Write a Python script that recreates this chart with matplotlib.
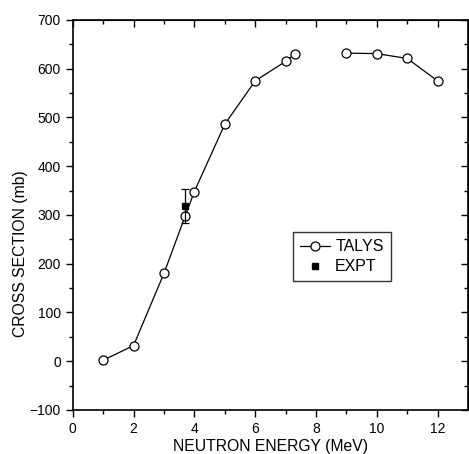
import numpy as np
import matplotlib.pyplot as plt
from matplotlib import font_manager

# TALYS curve (gap between 7.3 and 9 MeV)
talys_e = [1, 2, 3, 3.7, 4, 5, 6, 7, 7.3, np.nan, 9, 10, 11, 12]
talys_xs = [2, 32, 180, 298, 348, 486, 575, 615, 630, np.nan, 632, 631, 621, 575]

# experimental point
expt_e = [3.7]
expt_xs = [318]
expt_err = [35]

plt.rcParams['font.family'] = ['Liberation Sans', 'DejaVu Sans']

# narrow face for the axis titles if it is there
names = set(f.name for f in font_manager.fontManager.ttflist)
if 'Liberation Sans Narrow' in names:
    title_font = 'Liberation Sans Narrow'
    title_size = 13
else:
    title_font = 'Liberation Sans'
    title_size = 11.3

fig = plt.figure(figsize=(4.69, 4.54), dpi=100)
ax = fig.add_axes([0.155, 0.097, 0.843, 0.859])

ax.plot(talys_e, talys_xs, '-o', color='black', lw=0.9, markersize=6.5,
        markerfacecolor='white', markeredgewidth=0.9, label='TALYS')
ax.errorbar(expt_e, expt_xs, yerr=expt_err, fmt='none', ecolor='black',
            elinewidth=0.9, capsize=3, capthick=0.9)
ax.plot(expt_e, expt_xs, 's', color='black', markersize=5, label='EXPT')

ax.set_xlim(0, 13)
ax.set_ylim(-100, 700)
ax.set_xticks([0, 2, 4, 6, 8, 10, 12])
ax.set_xticks(np.arange(1, 13, 2), minor=True)
ax.set_yticks(np.arange(-100, 701, 100))
ax.set_yticks(np.arange(-50, 700, 100), minor=True)
ax.tick_params(which='major', length=5, width=1, labelsize=10, direction='out')
ax.tick_params(which='minor', length=3, width=1, direction='out')
for s in ax.spines.values():
    s.set_linewidth(1.2)

# mirrored ticks pointing in on top and right
top = ax.secondary_xaxis('top')
top.set_xticks([0, 2, 4, 6, 8, 10, 12])
top.set_xticks(np.arange(1, 13, 2), minor=True)
top.tick_params(which='major', direction='in', length=5, width=1, labeltop=False)
top.tick_params(which='minor', direction='in', length=3, width=1)
right = ax.secondary_yaxis('right')
right.set_yticks(np.arange(-100, 701, 100))
right.set_yticks(np.arange(-50, 700, 100), minor=True)
right.tick_params(which='major', direction='in', length=5, width=1, labelright=False)
right.tick_params(which='minor', direction='in', length=3, width=1)

ax.set_xlabel('NEUTRON ENERGY (MeV)', fontsize=title_size, family=title_font)
ax.xaxis.set_label_coords(0.50, -0.075)
ax.set_ylabel('CROSS SECTION (mb)', fontsize=title_size, family=title_font)
ax.yaxis.set_label_coords(-0.113, 0.40)

leg = ax.legend(loc='upper left', bbox_to_anchor=(0.557, 0.456), fontsize=11.5,
                frameon=True, fancybox=False, edgecolor='black', borderaxespad=0,
                handlelength=1.9, handletextpad=0.3, borderpad=0.45, labelspacing=0.3)
leg.get_frame().set_linewidth(1.0)

fig.savefig('out.png', dpi=100)
